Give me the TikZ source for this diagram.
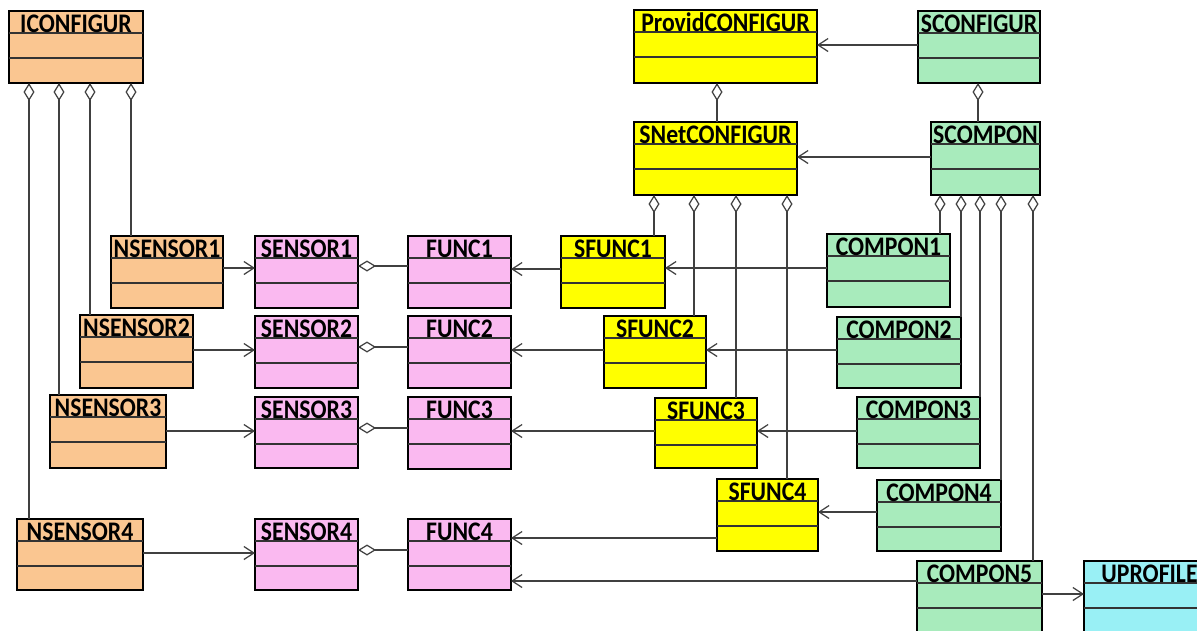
\documentclass[tikz,border=0pt]{standalone}
\usepackage{fontspec}
\setmainfont{Carlito}
\usetikzlibrary{positioning,arrows.meta,fit}

\definecolor{clsorange}{RGB}{250,198,145}
\definecolor{clspink}{RGB}{250,185,240}
\definecolor{clsyellow}{RGB}{255,255,0}
\definecolor{clsgreen}{RGB}{168,235,188}
\definecolor{clscyan}{RGB}{153,240,245}

\tikzset{
  classbox/.style={draw=black, line width=1pt, inner sep=0pt, outer sep=0pt},
  classname/.style={anchor=base, inner sep=0pt, font=\bfseries\fontsize{13.5}{16}\selectfont},
  sepline/.style={draw=black!80, line width=0.6pt},
  assoc/.style={draw=black!75, line width=0.7pt, -{Straight Barb[length=2mm,width=2.6mm]}},
  agg/.style={draw=black!75, line width=0.7pt, {Diamond[open,length=3.6mm,width=2.2mm]}-},
}

% class box: name, x1, y1, x2, y2, colour, title
\newcommand{\umlclass}[7]{%
  \node[classbox, fill=#6, fit={(#2,#3) (#4,#5)}] (#1) {};
  \draw[sepline] (#2,#3+22) -- (#4,#3+22) (#2,#3+47) -- (#4,#3+47);
  \node[classname] (#1-name) at ({(#2+#4)/2},#3+21) {\scalebox{1}[1.13]{#7}};
}

\begin{document}
\begin{tikzpicture}[x=0.02cm, y=-0.02cm, >=Latex]
  \useasboundingbox (0,0) rectangle (1197,630);
  \clip (0,0) rectangle (1197,630);
  % configuration classes
  \umlclass{iconf}{9}{11}{143}{83}{clsorange}{ICONFIGUR}
  \umlclass{provconf}{634}{10}{817}{83}{clsyellow}{ProvidCONFIGUR}
  \umlclass{sconf}{918}{11}{1040}{83}{clsgreen}{SCONFIGUR}
  \umlclass{snetconf}{634}{122}{797}{195}{clsyellow}{SNetCONFIGUR}
  \umlclass{scompon}{931}{122}{1040}{195}{clsgreen}{SCOMPON}
  % row 1
  \umlclass{ns1}{111}{236}{223}{308}{clsorange}{NSENSOR1}
  \umlclass{sen1}{255}{236}{358}{308}{clspink}{SENSOR1}
  \umlclass{fn1}{408}{236}{511}{308}{clspink}{FUNC1}
  \umlclass{sfn1}{561}{236}{665}{308}{clsyellow}{SFUNC1}
  \umlclass{cmp1}{827}{234}{950}{307}{clsgreen}{COMPON1}
  % row 2
  \umlclass{ns2}{80}{315}{193}{388}{clsorange}{NSENSOR2}
  \umlclass{sen2}{255}{316}{358}{388}{clspink}{SENSOR2}
  \umlclass{fn2}{408}{316}{511}{388}{clspink}{FUNC2}
  \umlclass{sfn2}{604}{316}{706}{388}{clsyellow}{SFUNC2}
  \umlclass{cmp2}{837}{317}{961}{388}{clsgreen}{COMPON2}
  % row 3
  \umlclass{ns3}{50}{395}{166}{468}{clsorange}{NSENSOR3}
  \umlclass{sen3}{255}{397}{358}{468}{clspink}{SENSOR3}
  \umlclass{fn3}{408}{397}{511}{469}{clspink}{FUNC3}
  \umlclass{sfn3}{655}{398}{757}{468}{clsyellow}{SFUNC3}
  \umlclass{cmp3}{857}{397}{980}{468}{clsgreen}{COMPON3}
  % row 4
  \umlclass{sfn4}{717}{479}{818}{551}{clsyellow}{SFUNC4}
  \umlclass{cmp4}{877}{480}{1001}{551}{clsgreen}{COMPON4}
  \umlclass{ns4}{17}{519}{143}{590}{clsorange}{NSENSOR4}
  \umlclass{sen4}{255}{519}{358}{590}{clspink}{SENSOR4}
  \umlclass{fn4}{408}{519}{511}{590}{clspink}{FUNC4}
  \umlclass{cmp5}{917}{561}{1042}{634}{clsgreen}{COMPON5}
  \umlclass{uprof}{1084}{561}{1215}{634}{clscyan}{UPROFILE}

  % top associations
  \draw[assoc] (sconf.west |- 0,45) -- (provconf.east |- 0,45);
  \draw[assoc] (scompon.west |- 0,157) -- (snetconf.east |- 0,157);
  \draw[agg] (717,0 |- provconf.south) -- (717,0 |- snetconf.north);
  \draw[agg] (978,0 |- sconf.south) -- (978,0 |- scompon.north);

  % ICONFIGUR aggregations
  \draw[agg] (131,0 |- iconf.south) -- (131,0 |- ns1.north);
  \draw[agg] (90,0 |- iconf.south) -- (90,0 |- ns2.north);
  \draw[agg] (59,0 |- iconf.south) -- (59,0 |- ns3.north);
  \draw[agg] (29,0 |- iconf.south) -- (29,0 |- ns4.north);

  % SNetCONFIGUR aggregations
  \draw[agg] (654,0 |- snetconf.south) -- (654,0 |- sfn1.north);
  \draw[agg] (694,0 |- snetconf.south) -- (694,0 |- sfn2.north);
  \draw[agg] (736,0 |- snetconf.south) -- (736,0 |- sfn3.north);
  \draw[agg] (787,0 |- snetconf.south) -- (787,0 |- sfn4.north);

  % SCOMPON aggregations
  \draw[agg] (940,0 |- scompon.south) -- (940,0 |- cmp1.north);
  \draw[agg] (961,0 |- scompon.south) -- (961,0 |- cmp2.north);
  \draw[agg] (980,0 |- scompon.south) -- (980,0 |- cmp3.north);
  \draw[agg] (1001,0 |- scompon.south) -- (1001,0 |- cmp4.north);
  \draw[agg] (1033,0 |- scompon.south) -- (1033,0 |- cmp5.north);

  % NSENSOR -> SENSOR
  \draw[assoc] (ns1.east |- 0,268) -- (sen1.west |- 0,268);
  \draw[assoc] (ns2.east |- 0,350) -- (sen2.west |- 0,350);
  \draw[assoc] (ns3.east |- 0,431) -- (sen3.west |- 0,431);
  \draw[assoc] (ns4.east |- 0,553) -- (sen4.west |- 0,553);

  % SENSOR <>- FUNC
  \draw[agg] (sen1.east |- 0,266) -- (fn1.west |- 0,266);
  \draw[agg] (sen2.east |- 0,347) -- (fn2.west |- 0,347);
  \draw[agg] (sen3.east |- 0,428) -- (fn3.west |- 0,428);
  \draw[agg] (sen4.east |- 0,550) -- (fn4.west |- 0,550);

  % SFUNC -> FUNC
  \draw[assoc] (sfn1.west |- 0,269) -- (fn1.east |- 0,269);
  \draw[assoc] (sfn2.west |- 0,350) -- (fn2.east |- 0,350);
  \draw[assoc] (sfn3.west |- 0,431) -- (fn3.east |- 0,431);
  \draw[assoc] (sfn4.west |- 0,538) -- (fn4.east |- 0,538);

  % COMPON -> SFUNC
  \draw[assoc] (cmp1.west |- 0,268) -- (sfn1.east |- 0,268);
  \draw[assoc] (cmp2.west |- 0,350) -- (sfn2.east |- 0,350);
  \draw[assoc] (cmp3.west |- 0,431) -- (sfn3.east |- 0,431);
  \draw[assoc] (cmp4.west |- 0,512) -- (sfn4.east |- 0,512);

  % COMPON5
  \draw[assoc] (cmp5.west |- 0,581) -- (fn4.east |- 0,581);
  \draw[assoc] (cmp5.east |- 0,594) -- (uprof.west |- 0,594);
\end{tikzpicture}
\end{document}
